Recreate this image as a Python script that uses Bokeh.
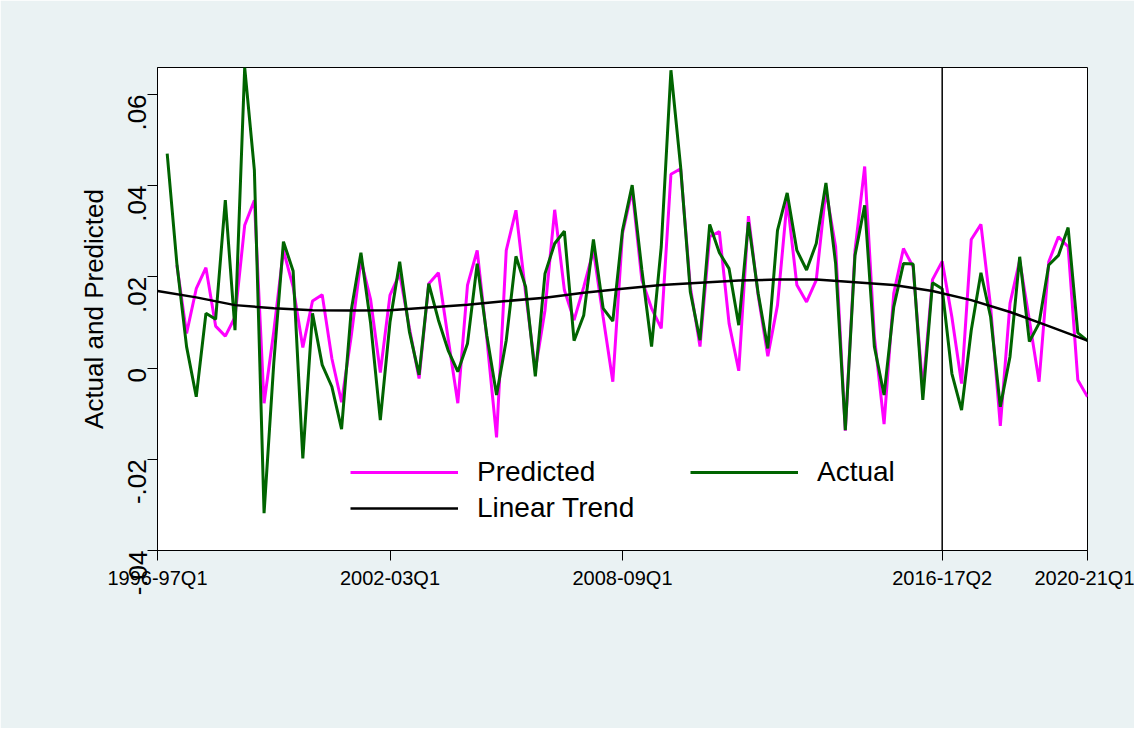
import math
from bokeh.plotting import figure
from bokeh.models import (ColumnDataSource, Range1d, FixedTicker, Span, Legend,
                          LegendItem)
from bokeh.embed import file_html
from bokeh.resources import INLINE

# ---------------- data ----------------
# x = quarter index, 0 = 1996-97Q1 ... 96 = 2020-21Q1
actual_q = list(range(1, 97))
actual = [0.0470, 0.0229, 0.0047, -0.0063, 0.0120, 0.0107, 0.0368, 0.0083, 0.0659, 0.0434,
          -0.0318, 0.0010, 0.0277, 0.0213, -0.0198, 0.0120, 0.0007, -0.0041, -0.0134, 0.0127,
          0.0253, 0.0098, -0.0114, 0.0101, 0.0233, 0.0080, -0.0015, 0.0185, 0.0105, 0.0039,
          -0.0008, 0.0054, 0.0229, 0.0071, -0.0059, 0.0061, 0.0245, 0.0178, -0.0018, 0.0207,
          0.0273, 0.0300, 0.0060, 0.0116, 0.0282, 0.0131, 0.0103, 0.0302, 0.0401, 0.0215,
          0.0047, 0.0266, 0.0653, 0.0441, 0.0167, 0.0061, 0.0315, 0.0253, 0.0218, 0.0094,
          0.0320, 0.0164, 0.0043, 0.0302, 0.0384, 0.0258, 0.0215, 0.0273, 0.0406, 0.0229,
          -0.0136, 0.0247, 0.0357, 0.0047, -0.0059, 0.0134, 0.0229, 0.0228, -0.0070, 0.0187,
          0.0174, -0.0012, -0.0092, 0.0083, 0.0209, 0.0112, -0.0085, 0.0025, 0.0244, 0.0058,
          0.0098, 0.0226, 0.0247, 0.0308, 0.0077, 0.0060]

predicted_q = list(range(2, 97))
predicted = [0.0226, 0.0076, 0.0174, 0.0220, 0.0092, 0.0070, 0.0112, 0.0313, 0.0368,
             -0.0077, 0.0080, 0.0258, 0.0178, 0.0045, 0.0147, 0.0161, 0.0021, -0.0075, 0.0070,
             0.0237, 0.0150, -0.0010, 0.0160, 0.0207, 0.0088, -0.0023, 0.0185, 0.0209, 0.0065,
             -0.0077, 0.0182, 0.0258, 0.0064, -0.0152, 0.0258, 0.0346, 0.0164, -0.0004, 0.0127,
             0.0347, 0.0171, 0.0105, 0.0178, 0.0258, 0.0112, -0.0030, 0.0295, 0.0390, 0.0193,
             0.0131, 0.0087, 0.0425, 0.0437, 0.0178, 0.0047, 0.0288, 0.0299, 0.0098, -0.0006,
             0.0333, 0.0160, 0.0026, 0.0138, 0.0368, 0.0182, 0.0145, 0.0193, 0.0390, 0.0266,
             -0.0137, 0.0258, 0.0442, 0.0069, -0.0123, 0.0164, 0.0262, 0.0222, -0.0048, 0.0194,
             0.0234, 0.0112, -0.0034, 0.0282, 0.0315, 0.0134, -0.0127, 0.0142, 0.0236, 0.0105,
             -0.0030, 0.0233, 0.0288, 0.0266, -0.0026, -0.0063]

trend_q = [0, 4, 8, 12, 16, 20, 24, 28, 32, 36, 40, 44, 48, 52, 56, 60, 64, 68, 72, 76,
           80, 84, 88, 92, 96]
trend = [0.0169, 0.0155, 0.0138, 0.0131, 0.0127, 0.0126, 0.0127, 0.0133, 0.0139, 0.0147,
         0.0154, 0.0165, 0.0174, 0.0182, 0.0187, 0.0192, 0.0194, 0.0194, 0.0188, 0.0182,
         0.0169, 0.0149, 0.0123, 0.0092, 0.0060]

x_tick_pos = [0, 24, 48, 81, 96]
x_tick_labels = ["1996-97Q1", "2002-03Q1", "2008-09Q1", "2016-17Q2", "2020-21Q1"]
y_tick_pos = [-0.04, -0.02, 0.0, 0.02, 0.04, 0.06]
y_tick_labels = ["-.04", "-.02", "0", ".02", ".04", ".06"]
break_q = 81  # vertical reference line at 2016-17Q2

# ---------------- figure ----------------
FONT = "Liberation Sans"
BG = "#EAF2F3"

p = figure(width=1134, height=728, output_backend="svg", toolbar_location=None,
           x_range=Range1d(0, 96), y_range=Range1d(-0.04, 0.0659),
           min_border_left=157, min_border_right=47, min_border_top=67,
           min_border_bottom=178)
p.background_fill_color = "white"
p.border_fill_color = BG
p.outline_line_color = "black"
p.outline_line_width = 1
p.xgrid.visible = False
p.ygrid.visible = False

src_p = ColumnDataSource(dict(x=predicted_q, y=predicted))
src_a = ColumnDataSource(dict(x=actual_q, y=actual))
src_t = ColumnDataSource(dict(x=trend_q, y=trend))

r_p = p.line("x", "y", source=src_p, line_color="#FF00FF", line_width=3)
r_a = p.line("x", "y", source=src_a, line_color="#006400", line_width=3)
r_t = p.line("x", "y", source=src_t, line_color="black", line_width=2.5)

p.add_layout(Span(location=break_q, dimension="height", line_color="black", line_width=1.5))

# axes
for ax in (p.xaxis[0], p.yaxis[0]):
    ax.axis_line_color = "black"
    ax.axis_line_width = 1
    ax.major_tick_in = 0
    ax.major_tick_out = 10
    ax.major_tick_line_color = "black"
    ax.minor_tick_line_color = None
    ax.major_label_text_font = FONT
    ax.major_label_text_color = "black"
    ax.axis_label_text_font = FONT
    ax.axis_label_text_font_style = "normal"
    ax.axis_label_text_color = "black"

p.xaxis[0].ticker = FixedTicker(ticks=x_tick_pos)
p.xaxis[0].major_label_overrides = {t: l for t, l in zip(x_tick_pos, x_tick_labels)}
p.xaxis[0].major_label_text_font_size = "20px"
p.xaxis[0].major_label_standoff = 6

p.yaxis[0].ticker = FixedTicker(ticks=y_tick_pos)
p.yaxis[0].major_label_overrides = {t: l for t, l in zip(y_tick_pos, y_tick_labels)}
p.yaxis[0].major_label_text_font_size = "26px"
p.yaxis[0].major_label_orientation = math.pi / 2
p.yaxis[0].major_label_standoff = 10
p.yaxis[0].axis_label = "Actual and Predicted"
p.yaxis[0].axis_label_text_font_size = "26px"
p.yaxis[0].axis_label_standoff = 8

legend = Legend(items=[LegendItem(label="Predicted", renderers=[r_p]),
                       LegendItem(label="Actual", renderers=[r_a]),
                       LegendItem(label="Linear Trend", renderers=[r_t])],
                orientation="horizontal", ncols=2,
                location=(193, 26))
legend.label_text_font = FONT
legend.label_text_font_size = "28px"
legend.label_text_color = "black"
legend.glyph_width = 108
legend.label_standoff = 19
legend.label_width = 209
legend.spacing = 4
legend.padding = 0
legend.margin = 0
legend.background_fill_alpha = 0
legend.border_line_alpha = 0
p.add_layout(legend, "center")

open("out.html", "w").write(file_html(p, INLINE))
